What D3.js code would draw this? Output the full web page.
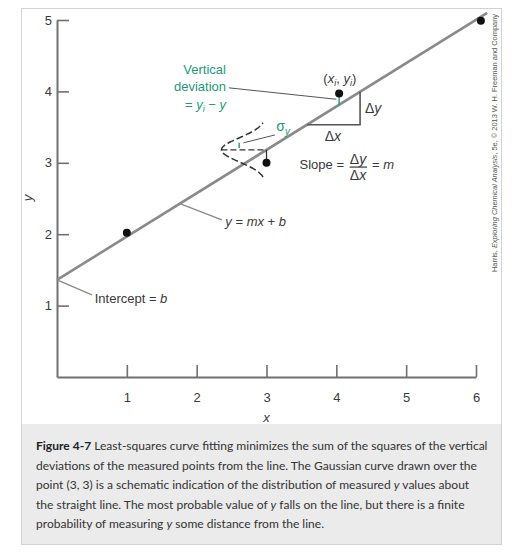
<!DOCTYPE html>
<html>
<head>
<meta charset="utf-8">
<script src="https://cdn.jsdelivr.net/npm/d3@7"></script>
<style>
  html, body { margin: 0; padding: 0; background: #fff; }
  svg { display: block; }
</style>
</head>
<body>
<svg id="chart" width="526" height="559"></svg>
<script>
// ---------- data ----------
const xTicks = [1, 2, 3, 4, 5, 6];
const yTicks = [1, 2, 3, 4, 5];
const pointX = [1, 3, 4.04, 6.07];
const pointY = [2.02, 3.0, 3.97, 4.99];
const fitSlope = 0.607;
const fitIntercept = 1.36;
const fitLineX = [0, 6.16];
// schematic Gaussian drawn over the point (3, 3)
const gaussCenterX = 3;
const gaussAmplitude = 0.645;   // in x units
const gaussSigma = 0.168;       // in y units
const gaussHalfRange = 0.38;
// slope triangle
const triangleX = [3.58, 4.34];
// caption lines
const captionLines = [
  [{t: "Figure 4-7", b: true}, {t: " Least-squares curve fitting minimizes the sum of the squares of the vertical"}],
  [{t: "deviations of the measured points from the line. The Gaussian curve drawn over the"}],
  [{t: "point (3, 3) is a schematic indication of the distribution of measured "}, {t: "y", i: true}, {t: " values about"}],
  [{t: "the straight line. The most probable value of "}, {t: "y", i: true}, {t: " falls on the line, but there is a finite"}],
  [{t: "probability of measuring "}, {t: "y", i: true}, {t: " some distance from the line."}]
];
const captionFirstWidth = 452;

// ---------- setup ----------
const svg = d3.select("#chart");
const FONT = "'Liberation Sans', Arial, Helvetica, sans-serif";
const TXT = "#3a3a3a";
const GREEN = "#1e9a7a";
const AXIS = "#707070";

const x = d3.scaleLinear().domain([0, 6]).range([57, 476]);
const y = d3.scaleLinear().domain([0, 5]).range([377, 20]);
const fit = v => fitIntercept + fitSlope * v;

// frame + caption box
svg.append("rect").attr("x", 21.5).attr("y", 8.5).attr("width", 480).attr("height", 536)
  .attr("fill", "#fff").attr("stroke", "#d2d2d2").attr("stroke-width", 1);
svg.append("rect").attr("x", 22).attr("y", 424).attr("width", 479).attr("height", 120)
  .attr("fill", "#ebebeb");

// ---------- axes ----------
const gy = svg.append("g").attr("transform", `translate(${x(0)},0)`)
  .call(d3.axisLeft(y).tickValues(yTicks).tickSize(-12).tickSizeOuter(0).tickPadding(5).tickFormat(d3.format("d")));
const gx = svg.append("g").attr("transform", `translate(0,${y(0)})`)
  .call(d3.axisBottom(x).tickValues(xTicks).tickSize(-12).tickSizeOuter(0).tickPadding(16).tickFormat(d3.format("d")));
[gx, gy].forEach(g => {
  g.select(".domain").attr("stroke", AXIS).attr("stroke-width", 2);
  g.selectAll(".tick line").attr("stroke", AXIS).attr("stroke-width", 1.6);
  g.selectAll(".tick text").attr("fill", TXT).attr("font-size", 13).attr("font-family", FONT);
});

svg.append("text").attr("x", x(3)).attr("y", y(0) + 45)
  .attr("text-anchor", "middle").attr("font-family", FONT).attr("font-size", 13)
  .attr("font-style", "italic").attr("fill", TXT).text("x");
svg.append("text").attr("transform", `translate(${x(0) - 25},198) rotate(-90)`)
  .attr("text-anchor", "middle").attr("font-family", FONT).attr("font-size", 13)
  .attr("font-style", "italic").attr("fill", TXT).text("y");

// ---------- fit line ----------
svg.append("line")
  .attr("x1", x(fitLineX[0])).attr("y1", y(fit(fitLineX[0])))
  .attr("x2", x(fitLineX[1])).attr("y2", y(fit(fitLineX[1])))
  .attr("stroke", "#8a8a8a").attr("stroke-width", 2.6);

// ---------- Gaussian ----------
const yc = fit(gaussCenterX);
const gPts = d3.range(-gaussHalfRange, gaussHalfRange + 0.001, 0.01).map(d => [
  gaussCenterX - gaussAmplitude * Math.exp(-(d * d) / (2 * gaussSigma * gaussSigma)),
  yc + d
]);
svg.append("path").datum(gPts)
  .attr("d", d3.line().x(d => x(d[0])).y(d => y(d[1])).curve(d3.curveBasis))
  .attr("fill", "none").attr("stroke", "#333").attr("stroke-width", 1.5)
  .attr("stroke-dasharray", "7,3");
svg.append("line")
  .attr("x1", x(gaussCenterX - gaussAmplitude)).attr("y1", y(yc))
  .attr("x2", x(gaussCenterX)).attr("y2", y(yc))
  .attr("stroke", "#333").attr("stroke-width", 1.3).attr("stroke-dasharray", "6,3");
// vertical from point (3,3) to line
svg.append("line")
  .attr("x1", x(3)).attr("y1", y(yc)).attr("x2", x(3)).attr("y2", y(3))
  .attr("stroke", "#333").attr("stroke-width", 1.3);
// sigma tick (green)
const sigX = gaussCenterX - gaussAmplitude * Math.exp(-0.5);
svg.append("line")
  .attr("x1", x(sigX)).attr("y1", y(yc + 0.028)).attr("x2", x(sigX)).attr("y2", y(yc + 0.1))
  .attr("stroke", GREEN).attr("stroke-width", 1.4);
// sigma pointer
svg.append("line")
  .attr("x1", x(3.12)).attr("y1", y(3.39)).attr("x2", x(2.67)).attr("y2", y(3.28))
  .attr("stroke", "#555").attr("stroke-width", 1);
const sig = svg.append("text").attr("x", x(3.14)).attr("y", y(3.45))
  .attr("font-family", FONT).attr("font-size", 14).attr("fill", GREEN);
sig.append("tspan").text("σ");
sig.append("tspan").attr("font-size", 10).attr("font-style", "italic").attr("dy", 4).text("y");

// ---------- slope triangle ----------
svg.append("path")
  .attr("d", `M${x(triangleX[0])},${y(fit(triangleX[0]))}H${x(triangleX[1])}V${y(fit(triangleX[1]))}`)
  .attr("fill", "none").attr("stroke", "#555").attr("stroke-width", 1.6);

// ---------- vertical deviation ----------
svg.append("line")
  .attr("x1", x(pointX[2])).attr("y1", y(fit(pointX[2]))).attr("x2", x(pointX[2])).attr("y2", y(pointY[2]) + 3)
  .attr("stroke", GREEN).attr("stroke-width", 1.4);
svg.append("line")
  .attr("x1", x(2.46)).attr("y1", y(4.05)).attr("x2", x(4.0)).attr("y2", y(3.89))
  .attr("stroke", "#555").attr("stroke-width", 1);

// ---------- pointers to line / intercept ----------
svg.append("line")
  .attr("x1", x(1.76)).attr("y1", y(fit(1.76))).attr("x2", x(2.36)).attr("y2", y(2.2))
  .attr("stroke", "#888").attr("stroke-width", 1.2);
svg.append("line")
  .attr("x1", x(0)).attr("y1", y(fitIntercept)).attr("x2", x(0.5)).attr("y2", y(1.15))
  .attr("stroke", "#888").attr("stroke-width", 1.2);

// ---------- points ----------
svg.selectAll("circle.pt").data(pointX.map((d, i) => [d, pointY[i]])).enter()
  .append("circle").attr("class", "pt")
  .attr("cx", d => x(d[0])).attr("cy", d => y(d[1])).attr("r", 4)
  .attr("fill", "#111");

// ---------- text annotations ----------
function rich(xv, yv, parts, opts = {}) {
  const t = svg.append("text").attr("x", x(xv)).attr("y", y(yv))
    .attr("font-family", FONT).attr("font-size", opts.size || 13)
    .attr("fill", opts.fill || TXT).attr("text-anchor", opts.anchor || "start");
  parts.forEach(p => {
    const s = t.append("tspan").text(p.t);
    if (p.i) s.attr("font-style", "italic");
    if (p.sub) s.attr("font-size", 9).attr("dy", 3);
    if (p.up) s.attr("dy", -3);
  });
  return t;
}
rich(2.42, 4.24, [{t: "Vertical"}], {anchor: "end", fill: GREEN});
rich(2.42, 4.00, [{t: "deviation"}], {anchor: "end", fill: GREEN});
rich(2.42, 3.75, [{t: "= "}, {t: "y", i: true}, {t: "i", i: true, sub: true}, {t: " − ", up: true}, {t: "y", i: true}], {anchor: "end", fill: GREEN});

rich(4.05, 4.12, [{t: "("}, {t: "x", i: true}, {t: "i", i: true, sub: true}, {t: ", ", up: true}, {t: "y", i: true}, {t: "i", i: true, sub: true}, {t: ")", up: true}], {anchor: "middle"});
rich(4.41, 3.70, [{t: "Δ"}, {t: "y", i: true}], {size: 14});
rich(3.95, 3.30, [{t: "Δ"}, {t: "x", i: true}], {anchor: "middle", size: 14});

rich(4.11, 2.91, [{t: "Slope ="}], {anchor: "end"});
rich(4.31, 2.99, [{t: "Δ"}, {t: "y", i: true}], {anchor: "middle", size: 14});
rich(4.31, 2.76, [{t: "Δ"}, {t: "x", i: true}], {anchor: "middle", size: 14});
svg.append("line").attr("x1", x(4.19)).attr("x2", x(4.44)).attr("y1", y(2.94)).attr("y2", y(2.94))
  .attr("stroke", TXT).attr("stroke-width", 1.2);
rich(4.51, 2.91, [{t: "= "}, {t: "m", i: true}]);

rich(2.41, 2.11, [{t: "y", i: true}, {t: " = "}, {t: "mx", i: true}, {t: " + "}, {t: "b", i: true}]);
rich(0.54, 1.04, [{t: "Intercept = "}, {t: "b", i: true}]);

// copyright
const cp = svg.append("text").attr("transform", "translate(497,143) rotate(-90)")
  .attr("text-anchor", "middle").attr("font-family", FONT).attr("font-size", 7.5)
  .attr("fill", "#555").attr("textLength", 258).attr("lengthAdjust", "spacingAndGlyphs");
cp.append("tspan").text("Harris, ");
cp.append("tspan").attr("font-style", "italic").text("Exploring Chemical Analysis");
cp.append("tspan").text(", 5e, © 2013 W. H. Freeman and Company");

// ---------- caption ----------
const capTexts = captionLines.map((line, i) => {
  const t = svg.append("text").attr("x", 36).attr("y", 450 + i * 19.5)
    .attr("font-family", "Lato, 'Open Sans', sans-serif").attr("font-size", 13.5)
    .attr("fill", "#333");
  line.forEach(p => {
    const s = t.append("tspan").text(p.t);
    if (p.b) s.attr("font-weight", "bold").attr("fill", "#222");
    if (p.i) s.attr("font-style", "italic");
  });
  return t;
});
const natural = capTexts[0].node().getComputedTextLength();
const capSize = Math.min(14, 13.5 * captionFirstWidth / natural);
capTexts.forEach(t => t.attr("font-size", capSize));
</script>
</body>
</html>
